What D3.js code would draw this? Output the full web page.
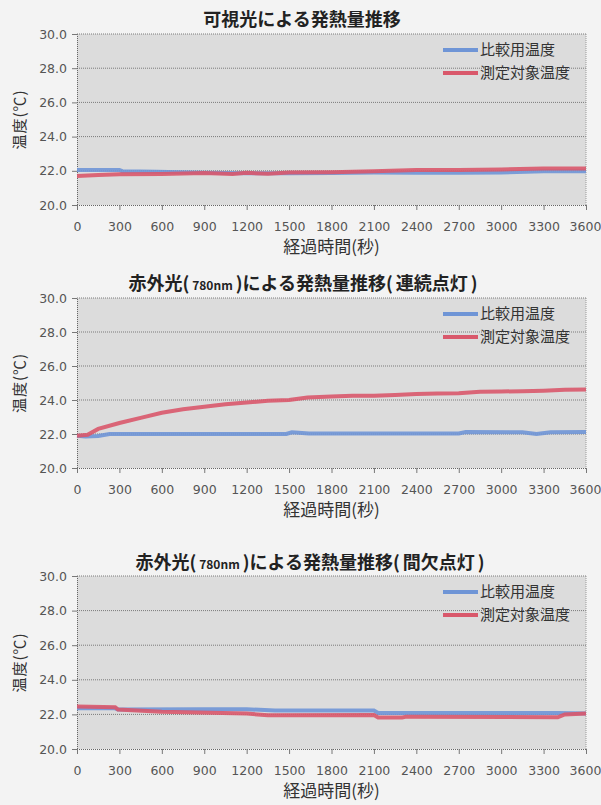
<!DOCTYPE html>
<html>
<head>
<meta charset="utf-8">
<script src="https://cdn.jsdelivr.net/npm/d3@7"></script>
<style>
  html, body { margin: 0; padding: 0; background: #f3f3f3; }
  svg { display: block; }
</style>
</head>
<body>
<div id="d3-container"></div>
<script>
/* CONSTANTS AND GLOBALS */
const width = 601,
  height = 805,
  plotLeft = 77,
  plotRight = 586;

const jpFont = "'Noto Sans CJK JP', 'Noto Sans', sans-serif";
const numFont = "'DejaVu Sans', Verdana, sans-serif";
const blue = "#6f95d6";
const red = "#d9586b";

/* DATA */
const xTickValues = [0, 300, 600, 900, 1200, 1500, 1800, 2100, 2400, 2700, 3000, 3300, 3600];
const yTickValues = [20, 22, 24, 26, 28, 30];
const seriesNames = ["比較用温度", "測定対象温度"];

// panel 1 : 可視光
const visRefTime = [0, 300, 320, 560, 900, 1200, 1500, 1800, 2100, 2400, 2700, 3000, 3300, 3600];
const visRefTemp = [22.05, 22.05, 21.98, 21.95, 21.88, 21.85, 21.85, 21.87, 21.9, 21.88, 21.88, 21.9, 21.97, 21.97];
const visTgtTime = [0, 150, 300, 600, 900, 1100, 1200, 1350, 1500, 1800, 2100, 2400, 2700, 3000, 3300, 3600];
const visTgtTemp = [21.7, 21.75, 21.8, 21.82, 21.87, 21.82, 21.88, 21.83, 21.9, 21.92, 21.97, 22.05, 22.05, 22.08, 22.14, 22.14];

// panel 2 : 赤外光 連続点灯
const irContRefTime = [0, 60, 150, 230, 1480, 1520, 1640, 2700, 2750, 3150, 3250, 3350, 3600];
const irContRefTemp = [21.9, 21.85, 21.88, 22.0, 22.0, 22.1, 22.03, 22.03, 22.12, 22.1, 22.0, 22.1, 22.12];
const irContTgtTime = [0, 75, 150, 300, 450, 600, 750, 900, 1050, 1200, 1350, 1500, 1630, 1800, 1950, 2100, 2250, 2400, 2550, 2700, 2850, 3000, 3150, 3300, 3450, 3600];
const irContTgtTemp = [21.9, 21.95, 22.3, 22.65, 22.95, 23.25, 23.45, 23.6, 23.75, 23.85, 23.95, 24.0, 24.15, 24.2, 24.25, 24.25, 24.3, 24.35, 24.38, 24.4, 24.48, 24.5, 24.52, 24.55, 24.6, 24.62];

// panel 3 : 赤外光 間欠点灯
const irIntRefTime = [0, 270, 290, 900, 1200, 1400, 2100, 2130, 3400, 3600];
const irIntRefTemp = [22.35, 22.35, 22.28, 22.3, 22.3, 22.22, 22.22, 22.08, 22.08, 22.05];
const irIntTgtTime = [0, 270, 290, 600, 1200, 1350, 2100, 2130, 2300, 2330, 3400, 3450, 3600];
const irIntTgtTemp = [22.45, 22.42, 22.28, 22.15, 22.05, 21.95, 21.97, 21.82, 21.82, 21.87, 21.83, 22.0, 22.05];

const panels = [
  {
    title: ["可視光による発熱量推移"],
    titleX: 302, titleY: 20, top: 34, bottom: 205,
    ref: { time: visRefTime, temp: visRefTemp },
    tgt: { time: visTgtTime, temp: visTgtTemp }
  },
  {
    title: ["赤外光(", "780nm", ")による発熱量推移(", "連続点灯", ")"],
    titleX: 303, titleY: 284, top: 298, bottom: 468,
    ref: { time: irContRefTime, temp: irContRefTemp },
    tgt: { time: irContTgtTime, temp: irContTgtTemp }
  },
  {
    title: ["赤外光(", "780nm", ")による発熱量推移(", "間欠点灯", ")"],
    titleX: 310, titleY: 563, top: 576, bottom: 749,
    ref: { time: irIntRefTime, temp: irIntRefTemp },
    tgt: { time: irIntTgtTime, temp: irIntTgtTemp }
  }
];

/* SVG */
const svg = d3.select("#d3-container")
  .append("svg")
  .attr("width", width)
  .attr("height", height);

svg.append("rect")
  .attr("width", width)
  .attr("height", height)
  .attr("fill", "#f3f3f3");

panels.forEach(drawPanel);

function drawPanel(p) {
  const xScale = d3.scaleLinear().domain([0, 3600]).range([plotLeft, plotRight]);
  const yScale = d3.scaleLinear().domain([20, 30]).range([p.bottom, p.top]);

  const g = svg.append("g");

  // plot area
  g.append("rect")
    .attr("x", plotLeft)
    .attr("y", p.top)
    .attr("width", plotRight - plotLeft)
    .attr("height", p.bottom - p.top)
    .attr("fill", "#dcdcdc");

  // gridlines
  g.selectAll(".grid")
    .data(yTickValues.filter(d => d > 20))
    .join("line")
    .attr("x1", plotLeft)
    .attr("x2", plotRight)
    .attr("y1", d => yScale(d))
    .attr("y2", d => yScale(d))
    .attr("stroke", "#7a7a7a")
    .attr("stroke-width", 1)
    .attr("stroke-dasharray", "1,1");

  // right border
  g.append("line")
    .attr("x1", plotRight).attr("x2", plotRight)
    .attr("y1", p.top).attr("y2", p.bottom)
    .attr("stroke", "#9a9a9a")
    .attr("stroke-dasharray", "1,1");

  // axes
  const xAxis = d3.axisBottom(xScale).tickValues(xTickValues).tickSize(5).tickPadding(12)
    .tickFormat(d => String(d));
  const yAxis = d3.axisLeft(yScale).tickValues(yTickValues).tickSize(5).tickPadding(5)
    .tickFormat(d3.format(".1f"));

  const xAxisGroup = g.append("g")
    .attr("transform", `translate(0, ${p.bottom})`)
    .call(xAxis);
  const yAxisGroup = g.append("g")
    .attr("transform", `translate(${plotLeft}, 0)`)
    .call(yAxis);

  [xAxisGroup, yAxisGroup].forEach(ax => {
    ax.select(".domain").attr("stroke", "#666").attr("stroke-dasharray", "1,1");
    ax.selectAll(".tick line").attr("stroke", "#777");
    ax.selectAll(".tick text")
      .attr("font-family", numFont)
      .attr("font-size", 12.5)
      .attr("fill", "#555");
  });
  // keep the last label inside the page
  xAxisGroup.selectAll(".tick text")
    .filter(d => d === 3600)
    .attr("dx", -1);

  // lines
  const lineGen = d3.line()
    .x(d => xScale(d[0]))
    .y(d => yScale(d[1]));

  [[p.ref, blue], [p.tgt, red]].forEach(([s, color]) => {
    g.append("path")
      .datum(d3.zip(s.time, s.temp))
      .attr("fill", "none")
      .attr("stroke", color)
      .attr("stroke-width", 4)
      .attr("stroke-opacity", 0.9)
      .attr("d", lineGen);
  });

  // legend
  seriesNames.forEach((name, i) => {
    const ly = p.top + 16 + i * 23;
    g.append("line")
      .attr("x1", 443).attr("x2", 478)
      .attr("y1", ly).attr("y2", ly)
      .attr("stroke", i === 0 ? blue : red)
      .attr("stroke-width", 4);
    g.append("text")
      .attr("x", 480)
      .attr("y", ly)
      .attr("dy", "0.36em")
      .attr("font-family", jpFont)
      .attr("font-size", 15)
      .attr("fill", "#333")
      .text(name);
  });

  // title
  const title = g.append("text")
    .attr("x", p.titleX)
    .attr("y", p.titleY)
    .attr("dy", "0.36em")
    .attr("text-anchor", "middle")
    .attr("font-family", jpFont)
    .attr("font-size", 18)
    .attr("font-weight", "bold")
    .attr("fill", "#222");
  p.title.forEach((part, i) => {
    title.append("tspan")
      .attr("font-size", i === 1 ? 12 : 18)
      .attr("dx", i > 0 ? 3 : 0)
      .text(part);
  });

  // axis titles
  g.append("text")
    .attr("x", (plotLeft + plotRight) / 2)
    .attr("y", p.bottom + 42)
    .attr("dy", "0.36em")
    .attr("text-anchor", "middle")
    .attr("font-family", jpFont)
    .attr("font-size", 17)
    .attr("fill", "#333")
    .text("経過時間(秒)");

  g.append("text")
    .attr("transform", `translate(20, ${(p.top + p.bottom) / 2}) rotate(-90)`)
    .attr("dy", "0.36em")
    .attr("text-anchor", "middle")
    .attr("font-family", jpFont)
    .attr("font-size", 15)
    .attr("letter-spacing", 1)
    .attr("fill", "#333")
    .text("温度(℃)");
}
</script>
</body>
</html>
